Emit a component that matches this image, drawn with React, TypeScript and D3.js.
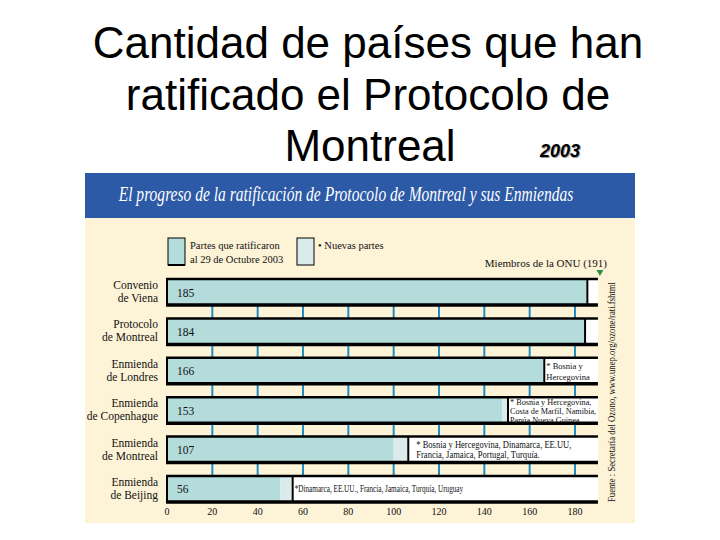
import React from 'react';
import * as d3 from 'd3';

const categories = [
  ['Convenio', 'de Viena'],
  ['Protocolo', 'de Montreal'],
  ['Enmienda', 'de Londres'],
  ['Enmienda', 'de Copenhague'],
  ['Enmienda', 'de Montreal'],
  ['Enmienda', 'de Beijing'],
];
const ratified = [185, 184, 166, 148, 100, 50];
const newParties = [0, 0, 0, 2, 6, 5];
const totals = [185, 184, 166, 153, 107, 56];
const notes = [
  [],
  [],
  ['* Bosnia y', 'Hercegovina'],
  ['* Bosnia y Hercegovina,', 'Costa de Marfil, Namibia,', 'Papúa Nueva Guinea'],
  ['* Bosnia y Hercegovina, Dinamarca, EE.UU,', 'Francia, Jamaica, Portugal, Turquía.'],
  ['*Dinamarca, EE.UU., Francia, Jamaica, Turquía, Uruguay'],
];
const ticks = [0, 20, 40, 60, 80, 100, 120, 140, 160, 180];
const onuMembers = 191;

const serif = '"Liberation Serif", "DejaVu Serif", serif';
const sans = '"Liberation Sans", Arial, sans-serif';

const teal = '#b3dcdb';
const light = '#dbeaea';
const cream = '#fdf3d7';
const banner = '#2c5aa6';
const tickBlue = '#1f8dc2';

// font size, horizontal squeeze, gap after the bar, line height
const noteLook = [
  { size: 9, sx: 1, dx: 4, lh: 11 },
  { size: 9, sx: 1, dx: 4, lh: 11 },
  { size: 8.5, sx: 1, dx: 3, lh: 10.5 },
  { size: 8.5, sx: 0.97, dx: 3, lh: 9 },
  { size: 9.5, sx: 0.9, dx: 9, lh: 10 },
  { size: 9.5, sx: 0.76, dx: 3, lh: 11 },
];

export default function App() {
  const x = d3.scaleLinear().domain([0, 180]).range([167, 575]);
  const y = d3
    .scaleBand<number>()
    .domain(d3.range(categories.length))
    .range([279, 502])
    .paddingInner(0.34)
    .paddingOuter(0);
  const bw = y.bandwidth();
  const xEnd = x(onuMembers) - 2;

  // gaps between rows, where the blue ticks sit
  const gaps = d3.range(categories.length - 1).map((i) => [y(i)! + bw, y(i + 1)!]);

  return (
    <div style={{ position: 'absolute', left: 0, top: 0 }}>
      <svg width={720} height={540} style={{ display: 'block', background: '#fff' }}>
        {/* page title */}
        <g fontFamily={sans} fontSize={44} fill="#000" textAnchor="middle">
          <text x={368} y={58}>Cantidad de países que han</text>
          <text x={368} y={110}>ratificado el Protocolo de</text>
          <text x={370} y={161}>Montreal</text>
        </g>
        <text x={541} y={158} fontFamily={sans} fontSize={18} fontWeight="bold" fontStyle="italic" fill="#999">
          2003
        </text>
        <text x={540} y={157} fontFamily={sans} fontSize={18} fontWeight="bold" fontStyle="italic" fill="#000">
          2003
        </text>

        {/* panel */}
        <rect x={85} y={173} width={550} height={46} fill={banner} />
        <rect x={85} y={218} width={550} height={305} fill={cream} />
        <g transform="translate(346,201) scale(0.74,1)">
          <text x={0} y={0} textAnchor="middle" fontFamily={serif} fontStyle="italic" fontSize={21} fill="#fff">
            El progreso de la ratificación de Protocolo de Montreal y sus Enmiendas
          </text>
        </g>

        {/* legend */}
        <rect x={168} y={238} width={17} height={27} fill={teal} stroke="#000" strokeWidth={1} />
        <line x1={168} x2={185} y1={265} y2={265} stroke="#000" strokeWidth={2} />
        <g fontFamily={serif} fontSize={10.5} fill="#111">
          <text x={190} y={249}>Partes que ratificaron</text>
          <text x={190} y={262.5}>al 29 de Octubre 2003</text>
        </g>
        <rect x={297} y={238} width={17} height={27} fill={light} stroke="#000" strokeWidth={1} />
        <text x={318} y={249} fontFamily={serif} fontSize={10.5} fill="#111">
          • Nuevas partes
        </text>
        <text x={607} y={266.5} textAnchor="end" fontFamily={serif} fontSize={11} fill="#111">
          Miembros de la ONU (191)
        </text>
        <path
          d={`M${x(onuMembers) - 3.5},270 L${x(onuMembers) + 3.5},270 L${x(onuMembers)},276 Z`}
          fill="#2f8f3f"
        />

        {/* blue ticks in gaps */}
        {gaps.map(([g0, g1], gi) =>
          ticks
            .filter((t) => t > 0)
            .map((t) => (
              <line key={`${gi}-${t}`} x1={x(t)} x2={x(t)} y1={g0} y2={g1} stroke={tickBlue} strokeWidth={2} />
            ))
        )}

        {/* rows */}
        {categories.map((c, i) => {
          const y0 = y(i)!;
          const cy = y0 + bw / 2;
          const endX = x(ratified[i] + newParties[i]);
          const lines = notes[i];
          const look = noteLook[i];
          const firstY = cy - ((lines.length - 1) * look.lh) / 2 + 3.5;
          return (
            <g key={i}>
              <rect x={x(0)} y={y0} width={xEnd - x(0)} height={bw} fill="#fff" />
              <rect x={x(0)} y={y0} width={x(ratified[i]) - x(0)} height={bw} fill={teal} />
              {newParties[i] > 0 && (
                <rect x={x(ratified[i])} y={y0} width={endX - x(ratified[i])} height={bw} fill={light} />
              )}
              <line x1={endX + 1} x2={endX + 1} y1={y0} y2={y0 + bw} stroke="#000" strokeWidth={2} />
              <line x1={x(0)} x2={x(0)} y1={y0} y2={y0 + bw} stroke="#000" strokeWidth={2} />
              <text x={177} y={cy + 4.5} fontFamily={serif} fontSize={11.5} fill="#111">
                {totals[i]}
              </text>
              <g fontFamily={serif} fontSize={11.5} fill="#111" textAnchor="end">
                <text x={158} y={cy - 3}>{c[0]}</text>
                <text x={158} y={cy + 10}>{c[1]}</text>
              </g>
              <g
                transform={`translate(${endX + look.dx},${firstY}) scale(${look.sx},1)`}
                fontFamily={serif}
                fontSize={look.size}
                fill="#111"
              >
                {lines.map((ln, li) => (
                  <text key={li} x={0} y={li * look.lh}>
                    {ln}
                  </text>
                ))}
              </g>
              <line x1={x(0) - 1} x2={xEnd} y1={y0} y2={y0} stroke="#000" strokeWidth={2.5} />
              <line x1={x(0) - 1} x2={xEnd} y1={y0 + bw} y2={y0 + bw} stroke="#000" strokeWidth={3.5} />
            </g>
          );
        })}

        {/* x axis labels */}
        <g fontFamily={serif} fontSize={10} fill="#111" textAnchor="middle">
          {ticks.map((t) => (
            <text key={t} x={x(t)} y={515}>
              {t}
            </text>
          ))}
        </g>

        {/* source */}
        <g transform="translate(615,392) rotate(-90)">
          <text
            textAnchor="middle"
            fontFamily={serif}
            fontSize={10}
            fill="#111"
            textLength={220}
            lengthAdjust="spacingAndGlyphs"
          >
            Fuente : Secretaría del Ozono, www.unep.org/ozone/rati.fshtml
          </text>
        </g>
      </svg>
    </div>
  );
}
